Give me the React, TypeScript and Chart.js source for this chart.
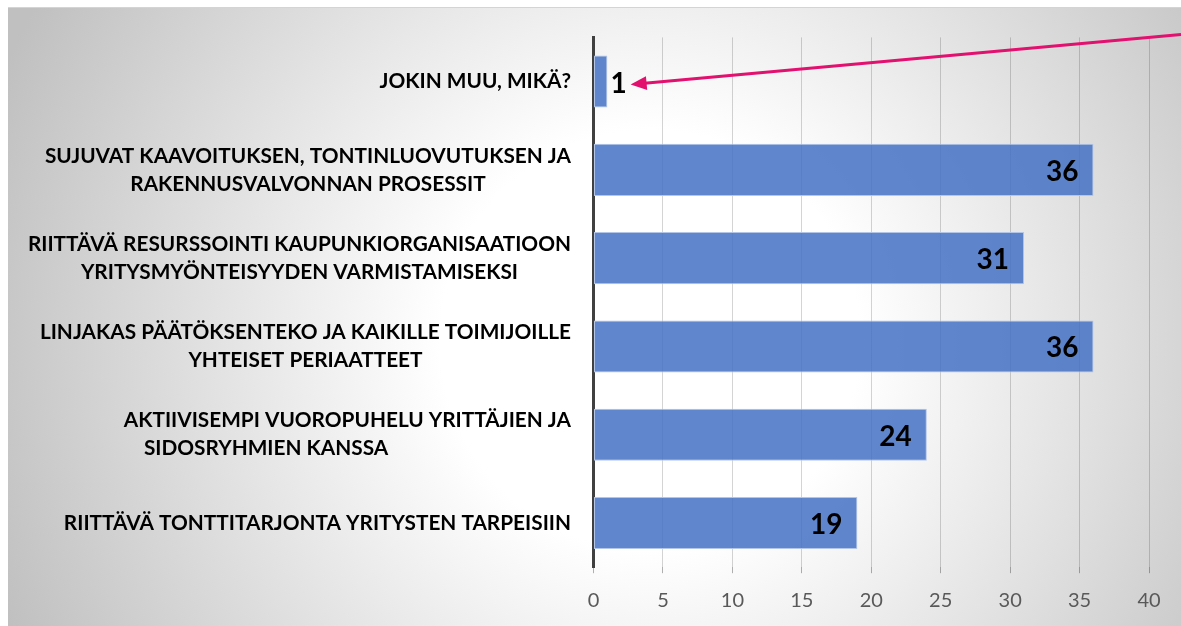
import React, { useEffect, useRef } from 'react';
import { Chart, registerables } from 'chart.js';

Chart.register(...registerables);

const categories: string[][] = [
  ['JOKIN MUU, MIKÄ?'],
  ['SUJUVAT KAAVOITUKSEN, TONTINLUOVUTUKSEN JA', 'RAKENNUSVALVONNAN PROSESSIT'],
  ['RIITTÄVÄ RESURSSOINTI KAUPUNKIORGANISAATIOON', 'YRITYSMYÖNTEISYYDEN VARMISTAMISEKSI'],
  ['LINJAKAS PÄÄTÖKSENTEKO JA KAIKILLE TOIMIJOILLE', 'YHTEISET PERIAATTEET'],
  ['AKTIIVISEMPI VUOROPUHELU YRITTÄJIEN JA', '    SIDOSRYHMIEN KANSSA'],
  ['RIITTÄVÄ TONTTITARJONTA YRITYSTEN TARPEISIIN'],
];
const labelAlign: string[] = ['center', 'center', 'center', 'center', 'left', 'center'];
const values: number[] = [1, 36, 31, 36, 24, 19];
const xTicks: number[] = [0, 5, 10, 15, 20, 25, 30, 35, 40];
const xMax = 42.3;

const LABEL_FONT = 'bold 20.8px Lato';
const VALUE_FONT = 'bold 28px Lato';

const backgroundPlugin = {
  id: 'bgGradient',
  beforeDraw(chart: any) {
    const { ctx, width, height } = chart;
    ctx.save();
    const g = ctx.createRadialGradient(642, 332, 0, 642, 332, 700);
    g.addColorStop(0, '#ffffff');
    g.addColorStop(0.3, '#ffffff');
    g.addColorStop(1, '#c0c0c0');
    ctx.fillStyle = g;
    ctx.fillRect(0, 0, width, height);
    ctx.restore();
  },
};

const yLabelPlugin = {
  id: 'yLabels',
  afterDraw(chart: any) {
    const { ctx, chartArea } = chart;
    const yScale = chart.scales.y;
    ctx.save();
    ctx.font = LABEL_FONT;
    ctx.fillStyle = '#000000';
    ctx.textBaseline = 'middle';
    const right = chartArea.left - 22.5;
    const lineH = 28;
    categories.forEach((lines, i) => {
      const y = yScale.getPixelForValue(i);
      const widths = lines.map((l) => ctx.measureText(l).width);
      const blockW = Math.max(...widths);
      lines.forEach((l, j) => {
        const ly = y + (j - (lines.length - 1) / 2) * lineH;
        if (labelAlign[i] === 'left') {
          ctx.textAlign = 'left';
          ctx.fillText(l, right - blockW, ly);
        } else {
          ctx.textAlign = 'center';
          ctx.fillText(l, right - blockW / 2, ly);
        }
      });
    });
    ctx.restore();
  },
};

const valueLabelPlugin = {
  id: 'valueLabels',
  afterDatasetsDraw(chart: any) {
    const { ctx } = chart;
    const meta = chart.getDatasetMeta(0);
    const zeroX = chart.scales.x.getPixelForValue(0);
    ctx.save();
    ctx.font = VALUE_FONT;
    ctx.fillStyle = '#000000';
    ctx.textBaseline = 'middle';
    meta.data.forEach((el: any, i: number) => {
      const txt = String(values[i]);
      const w = ctx.measureText(txt).width;
      const barW = el.x - zeroX;
      if (barW > w + 30) {
        ctx.textAlign = 'right';
        ctx.fillText(txt, el.x - 15, el.y + 2);
      } else {
        ctx.textAlign = 'left';
        ctx.fillText(txt, el.x + 3, el.y + 2);
      }
    });
    ctx.restore();
  },
};

const arrowPlugin = {
  id: 'arrow',
  afterDraw(chart: any) {
    const { ctx, chartArea, width } = chart;
    const meta = chart.getDatasetMeta(0);
    const el: any = meta.data[0];
    ctx.save();
    ctx.font = VALUE_FONT;
    const w = ctx.measureText(String(values[0])).width;
    const tipX = el.x + 3 + w + 4;
    const tipY = el.y + 3;
    const sx = width;
    const sy = chartArea.top - 3;
    const ang = Math.atan2(tipY - sy, tipX - sx);
    const headLen = 16;
    const headW = 7;
    const bx = tipX - headLen * Math.cos(ang);
    const by = tipY - headLen * Math.sin(ang);
    const color = '#E2106F';
    ctx.strokeStyle = color;
    ctx.fillStyle = color;
    ctx.lineWidth = 3;
    ctx.beginPath();
    ctx.moveTo(sx, sy);
    ctx.lineTo(bx + 2 * Math.cos(ang), by + 2 * Math.sin(ang));
    ctx.stroke();
    const px = -Math.sin(ang);
    const py = Math.cos(ang);
    ctx.beginPath();
    ctx.moveTo(tipX, tipY);
    ctx.lineTo(bx + px * headW, by + py * headW);
    ctx.lineTo(bx - px * headW, by - py * headW);
    ctx.closePath();
    ctx.fill();
    ctx.restore();
  },
};

export default function App() {
  const canvasRef = useRef<HTMLCanvasElement | null>(null);

  useEffect(() => {
    if (!canvasRef.current) return;
    const chart = new Chart(canvasRef.current, {
      type: 'bar',
      data: {
        labels: categories.map((c) => c.join(' ')),
        datasets: [
          {
            data: values,
            backgroundColor: 'rgba(68,114,196,0.85)',
            borderColor: '#b4c6e7',
            borderWidth: 1,
            borderSkipped: false,
            barPercentage: 0.59,
            categoryPercentage: 1,
          },
        ],
      },
      options: {
        indexAxis: 'y',
        animation: false,
        responsive: false,
        devicePixelRatio: 1,
        layout: { padding: { top: 29.4, left: 0, right: 0, bottom: 0 } },
        plugins: {
          legend: { display: false },
          tooltip: { enabled: false },
          title: { display: false },
        },
        scales: {
          x: {
            type: 'linear',
            min: 0,
            max: xMax,
            position: 'bottom',
            border: { display: false },
            grid: {
              color: 'rgba(0,0,0,0.17)',
              lineWidth: 1,
              drawTicks: true,
              tickLength: 6,
              tickColor: 'rgba(0,0,0,0.3)',
            },
            ticks: {
              font: { family: 'Lato', size: 20 },
              color: '#595959',
              padding: 15,
            },
            afterBuildTicks: (scale: any) => {
              scale.ticks = xTicks.map((v) => ({ value: v }));
            },
            afterFit: (scale: any) => {
              scale.height = 58.8;
            },
          },
          y: {
            type: 'category',
            position: 'left',
            z: 1,
            grid: { display: false },
            border: { display: true, color: '#404040', width: 3 },
            ticks: { display: false },
            afterFit: (scale: any) => {
              scale.width = 585.5;
            },
          },
        },
      } as any,
      plugins: [backgroundPlugin, valueLabelPlugin, yLabelPlugin, arrowPlugin],
    });
    return () => chart.destroy();
  }, []);

  return (
    <div
      style={{
        position: 'absolute',
        left: 8,
        top: 7,
        width: 1173,
        height: 619,
        borderTop: '1px solid #d4d4d4',
        overflow: 'hidden',
      }}
    >
      <canvas ref={canvasRef} width={1173} height={618} style={{ display: 'block' }} />
    </div>
  );
}
